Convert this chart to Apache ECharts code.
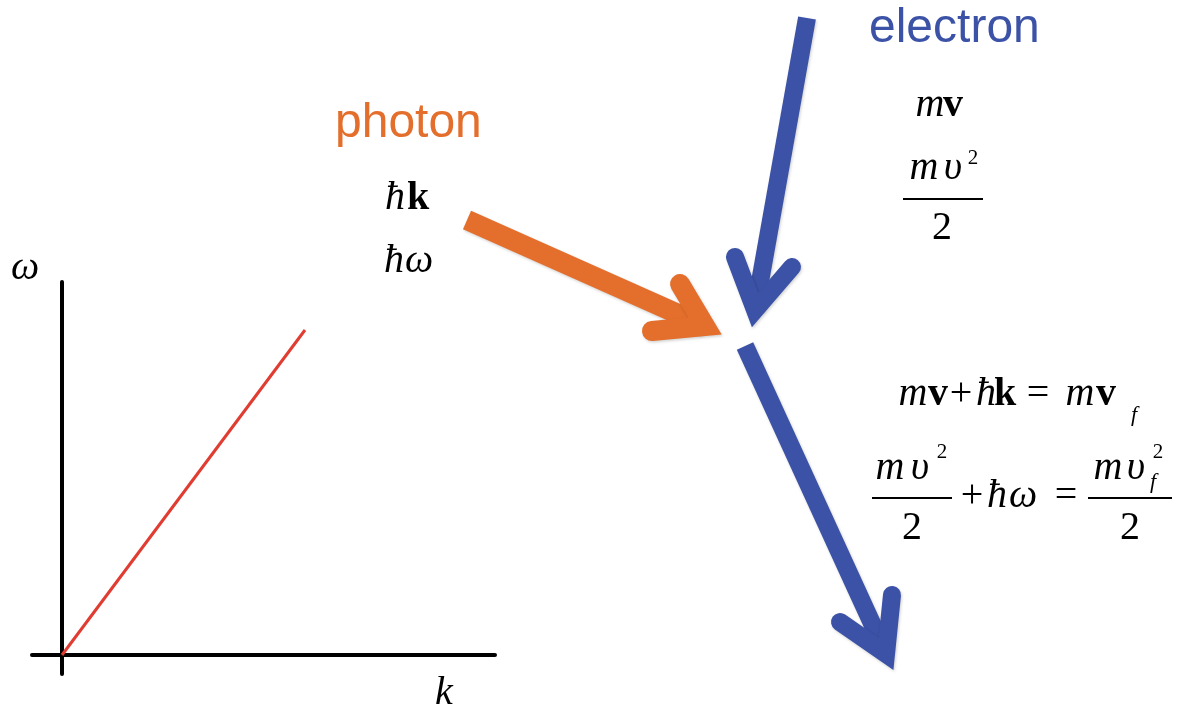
<!DOCTYPE html>
<html>
<head>
<meta charset="utf-8">
<script src="https://cdn.jsdelivr.net/npm/echarts@6/dist/echarts.min.js"></script>
<style>html,body{margin:0;padding:0;background:#fff;}#c{width:1181px;height:712px;}</style>
</head>
<body>
<div id="c"></div>
<script>
// Dispersion relation omega = c k (left panel)
const kValues = [0, 2.43];
const omegaValues = [0, 3.25];

// Scattering diagram, drawing units on a hidden plane
const photonShaft = [[467, 220], [705, 326]];
const photonHead = [[680, 284], [705, 326], [652, 331]];
const electronInShaft = [[807, 18], [755, 310]];
const electronInHead = [[735, 257], [755, 310], [792, 267]];
const electronOutShaft = [[745, 346], [886, 654]];
const electronOutHead = [[840, 622], [886, 654], [892, 595]];

const ORANGE = '#E46F2C';
const BLUE = '#3B52A6';
const RED = '#E03C31';

const chart = echarts.init(document.getElementById('c'), null, {renderer: 'canvas'});

const SERIF = '"Liberation Serif","Times New Roman",serif';
function t(cx, base, str, size, style, color) {
  return {
    type: 'text',
    z: 10,
    style: {
      text: str,
      x: cx,
      y: base - size * 0.3375,
      font: (style ? style + ' ' : '') + size + 'px ' + SERIF,
      fill: color || '#000',
      align: 'center',
      verticalAlign: 'middle'
    }
  };
}
function bar(x1, x2, y) {
  return {type: 'line', z: 10, shape: {x1: x1, y1: y, x2: x2, y2: y}, style: {stroke: '#000', lineWidth: 1.8}};
}
function sans(x, base, str, color) {
  return {type: 'text', z: 10, style: {text: str, x: x, y: base - 48 * 0.3465,
    font: '48px "Liberation Sans", Arial, sans-serif', fill: color, align: 'left', verticalAlign: 'middle'}};
}

const F = 40;
const graphics = [
  // axis names
  t(25, 282, 'ω', 40, 'italic'),
  t(444, 707, 'k', 40, 'italic'),
  // photon labels
  sans(335, 140, 'photon', ORANGE),
  t(395, 212, 'ħ', F, 'italic'), t(418, 212, 'k', F, 'bold'),
  t(394, 275, 'ħ', F, 'italic'), t(419, 275, 'ω', F, 'italic'),
  // electron labels
  sans(869, 45, 'electron', BLUE),
  t(930, 119, 'm', F, 'italic'), t(953, 119, 'v', F, 'bold'),
  t(924, 182, 'm', F, 'italic'), t(953, 182, 'υ', F, 'italic'), t(973, 166, '2', 21, ''),
  bar(903, 983, 199),
  t(942, 242, '2', F, ''),
  // equation 1
  t(913, 408, 'm', F, 'italic'), t(938, 408, 'v', F, 'bold'),
  t(961, 408, '+', F, ''),
  t(986, 408, 'ħ', F, 'italic'), t(1005, 408, 'k', F, 'bold'),
  t(1038, 408, '=', F, ''),
  t(1080, 408, 'm', F, 'italic'), t(1106, 408, 'v', F, 'bold'),
  t(1134, 423, 'f', 22, 'italic'),
  // equation 2
  t(890, 482, 'm', F, 'italic'), t(920, 482, 'υ', F, 'italic'), t(942, 460, '2', 21, ''),
  bar(872, 952, 498),
  t(912, 542, '2', F, ''),
  t(972, 510, '+', F, ''),
  t(997, 510, 'ħ', F, 'italic'), t(1023, 510, 'ω', F, 'italic'),
  t(1066, 510, '=', F, ''),
  t(1108, 482, 'm', F, 'italic'), t(1136, 482, 'υ', F, 'italic'),
  t(1158, 460, '2', 21, ''), t(1153, 490, 'f', 22, 'italic'),
  bar(1088, 1172, 498),
  t(1130, 542, '2', F, '')
];

function arrowPart(data, color, width, cap) {
  return {
    type: 'line', xAxisIndex: 1, yAxisIndex: 1, data: data,
    symbol: 'none', silent: true, animation: false,
    lineStyle: {color: color, width: width, cap: cap, join: 'miter', miterLimit: 10,
      shadowColor: 'rgba(0,0,0,0.18)', shadowBlur: 3, shadowOffsetX: 1, shadowOffsetY: 1.5}
  };
}

const hiddenAxis = {show: false, splitLine: {show: false}};

chart.setOption({
  animation: false,
  backgroundColor: '#fff',
  grid: [
    {left: 32, right: 1181 - 495, top: 282, bottom: 712 - 674},
    {left: 0, right: 0, top: 0, bottom: 0}
  ],
  xAxis: [
    {type: 'value', gridIndex: 0, min: -0.3, max: 4.33,
      axisLine: {show: true, onZero: true, lineStyle: {color: '#000', width: 4}},
      axisTick: {show: false}, axisLabel: {show: false}, splitLine: {show: false}},
    Object.assign({type: 'value', gridIndex: 1, min: 0, max: 1181}, hiddenAxis)
  ],
  yAxis: [
    {type: 'value', gridIndex: 0, min: -0.19, max: 3.73,
      axisLine: {show: true, onZero: true, lineStyle: {color: '#000', width: 4}},
      axisTick: {show: false}, axisLabel: {show: false}, splitLine: {show: false}},
    Object.assign({type: 'value', gridIndex: 1, min: 0, max: 712, inverse: true}, hiddenAxis)
  ],
  series: [
    {type: 'line', xAxisIndex: 0, yAxisIndex: 0,
      data: kValues.map((k, i) => [k, omegaValues[i]]),
      symbol: 'none', lineStyle: {color: RED, width: 3}},
    arrowPart(photonShaft, ORANGE, 20, 'butt'),
    arrowPart(photonHead, ORANGE, 20, 'round'),
    arrowPart(electronInShaft, BLUE, 18, 'butt'),
    arrowPart(electronInHead, BLUE, 18, 'round'),
    arrowPart(electronOutShaft, BLUE, 18, 'butt'),
    arrowPart(electronOutHead, BLUE, 18, 'round')
  ],
  graphic: graphics
});
</script>
</body>
</html>
